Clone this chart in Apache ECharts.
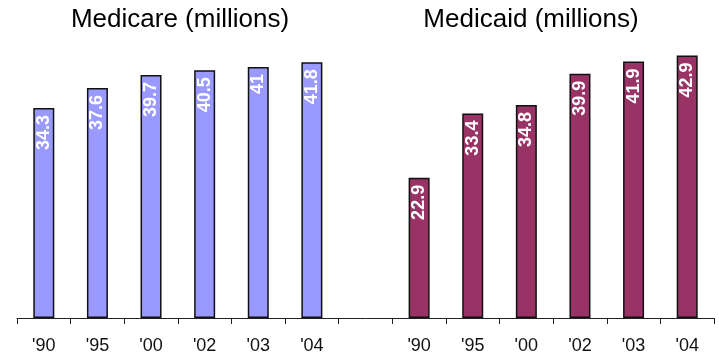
<!DOCTYPE html>
<html>
<head>
<meta charset="utf-8">
<script src="https://cdn.jsdelivr.net/npm/echarts@6/dist/echarts.min.js"></script>
<style>
  html, body { margin: 0; padding: 0; background: #fff; }
  #chart { width: 719px; height: 355px; }
</style>
</head>
<body>
<div id="chart"></div>
<script>
// Enrollment in millions, by year
const years = ["'90", "'95", "'00", "'02", "'03", "'04"];
const medicare = [34.3, 37.6, 39.7, 40.5, 41, 41.8];
const medicaid = [22.9, 33.4, 34.8, 39.9, 41.9, 42.9];
const panelTitles = ['Medicare (millions)', 'Medicaid (millions)'];

// One shared axis: Medicare years, an empty spacer slot, then Medicaid years
const axisLabels = [...years, '', ...years];
const gap = ['-'];
const medicareData = [...medicare, ...gap, ...years.map(() => '-')];
const medicaidData = [...years.map(() => '-'), ...gap, ...medicaid];

const labelStyle = {
  show: true,
  position: 'insideTop',
  rotate: 90,
  align: 'right',
  verticalAlign: 'middle',
  distance: 7,
  color: '#fff',
  fontFamily: 'Liberation Sans, Arial, sans-serif',
  fontWeight: 'bold',
  fontSize: 18
};

// Panel headings centred over each group of bars
function heading(text, cx) {
  return {
    type: 'text', x: cx, y: 20,
    style: {
      text: text, fill: '#000',
      font: 'normal 26px "Liberation Sans", Arial, sans-serif',
      textAlign: 'center', textVerticalAlign: 'middle'
    }
  };
}

const chart = echarts.init(document.getElementById('chart'));
chart.setOption({
  animation: false,
  graphic: [heading(panelTitles[0], 180), heading(panelTitles[1], 531)],
  grid: { left: 17, right: 5, top: 12, bottom: 37, containLabel: false },
  xAxis: {
    type: 'category',
    data: axisLabels,
    boundaryGap: true,
    axisLine: { lineStyle: { color: '#222', width: 1 } },
    axisTick: { show: true, length: 6, alignWithLabel: false, lineStyle: { color: '#222' } },
    axisLabel: {
      interval: 0, margin: 19, color: '#111',
      fontFamily: 'Liberation Sans, Arial, sans-serif', fontSize: 18
    }
  },
  yAxis: { type: 'value', min: 0, max: 50, show: false },
  series: [
    {
      type: 'bar', name: 'Medicare', data: medicareData, barWidth: 21, barGap: '-100%',
      itemStyle: { color: '#9999FF', borderColor: '#111', borderWidth: 1.5 },
      label: labelStyle
    },
    {
      type: 'bar', name: 'Medicaid', data: medicaidData, barWidth: 21, barGap: '-100%',
      itemStyle: { color: '#993366', borderColor: '#111', borderWidth: 1.5 },
      label: labelStyle
    }
  ]
});
</script>
</body>
</html>
